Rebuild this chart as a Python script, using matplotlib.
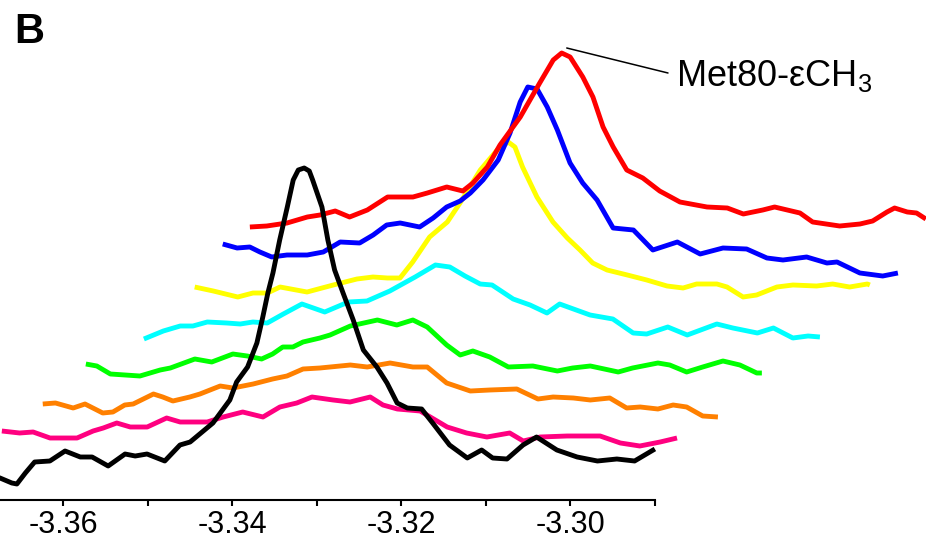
import numpy as np
import matplotlib
matplotlib.use('Agg')
import matplotlib.pyplot as plt

plt.rcParams['font.family'] = 'Liberation Sans'
plt.rcParams['mathtext.fontset'] = 'custom'
plt.rcParams['mathtext.rm'] = 'Liberation Sans'
plt.rcParams['mathtext.it'] = 'Liberation Sans:italic'
plt.rcParams['mathtext.bf'] = 'Liberation Sans:bold'

# chemical shift (ppm) and intensity (a.u.), front to back
black_ppm = [-3.3700, -3.3675, -3.3661, -3.3655, -3.3645, -3.3634, -3.3616, -3.3598, -3.3580, -3.3566,
             -3.3547, -3.3527, -3.3515, -3.3501, -3.3480, -3.3462, -3.3450, -3.3423, -3.3403, -3.3395,
             -3.3382, -3.3371, -3.3364, -3.3358, -3.3352, -3.3344, -3.3335, -3.3328, -3.3322, -3.3315,
             -3.3309, -3.3305, -3.3294, -3.3287, -3.3279, -3.3269, -3.3257, -3.3245, -3.3229, -3.3217,
             -3.3205, -3.3193, -3.3176, -3.3163, -3.3143, -3.3122, -3.3105, -3.3092, -3.3075, -3.3056,
             -3.3040, -3.3016, -3.2992, -3.2968, -3.2945, -3.2924, -3.2900]
black_int = [-2, -8, -13, -14, -3, 8, 9, 19, 13, 13,
             4, 16, 14, 16, 9, 25, 28, 47, 70, 88,
             103, 127, 153, 177, 197, 230, 263, 290, 300, 302,
             299, 290, 263, 230, 200, 177, 150, 120, 103, 87,
             67, 62, 61, 47, 25, 12, 20, 12, 11, 25,
             33, 20, 13, 9, 11, 9, 21]

magenta_ppm = [-3.3700, -3.3679, -3.3663, -3.3643, -3.3611, -3.3592, -3.3580, -3.3564, -3.3548, -3.3528,
               -3.3505, -3.3489, -3.3457, -3.3438, -3.3415, -3.3391, -3.3371, -3.3351, -3.3333, -3.3308,
               -3.3288, -3.3264, -3.3249, -3.3232, -3.3205, -3.3173, -3.3150, -3.3126, -3.3099, -3.3083,
               -3.3063, -3.3031, -3.2992, -3.2968, -3.2945, -3.2921, -3.2901]
magenta_int = [4, 2, 3, -3, -3, 4, 7, 12, 8, 8,
               17, 13, 13, 18, 23, 18, 28, 32, 38, 35,
               33, 38, 30, 26, 24, 8, 2, -2, 2, -6,
               -2, -1, -1, -8, -11, -7, -3]

orange_ppm = [-3.3699, -3.3684, -3.3663, -3.3649, -3.3628, -3.3616, -3.3602, -3.3592, -3.3568, -3.3557,
              -3.3545, -3.3525, -3.3513, -3.3489, -3.3474, -3.3450, -3.3427, -3.3410, -3.3391, -3.3371,
              -3.3335, -3.3315, -3.3288, -3.3261, -3.3244, -3.3221, -3.3193, -3.3170, -3.3138, -3.3113,
              -3.3095, -3.3071, -3.3051, -3.3028, -3.3008, -3.2992, -3.2971, -3.2953, -3.2937, -3.2918,
              -3.2900]
orange_int = [-4, -3, -8, -4, -13, -12, -5, -4, 6, 3,
              -1, 3, 6, 14, 12, 16, 21, 24, 31, 32,
              35, 33, 37, 33, 33, 17, 9, 10, 11, 1,
              3, 2, 0, 2, -8, -7, -9, -5, -7, -16,
              -17]

green_ppm = [-3.3700, -3.3687, -3.3671, -3.3636, -3.3612, -3.3600, -3.3571, -3.3551, -3.3526, -3.3509,
             -3.3492, -3.3479, -3.3467, -3.3455, -3.3443, -3.3423, -3.3411, -3.3387, -3.3355, -3.3332,
             -3.3313, -3.3296, -3.3273, -3.3257, -3.3242, -3.3222, -3.3200, -3.3171, -3.3142, -3.3124,
             -3.3103, -3.3070, -3.3053, -3.3023, -3.3009, -3.2989, -3.2970, -3.2946, -3.2926, -3.2906,
             -3.2900]
green_int = [1, -1, -9, -11, -5, -3, 6, 3, 11, 9,
             6, 11, 18, 18, 23, 27, 30, 39, 45, 40,
             45, 38, 20, 10, 14, 8, -2, -1, -6, -3,
             -1, -7, -3, 2, 0, -7, -2, 4, 0, -8,
             -8]

cyan_ppm = [-3.3700, -3.3677, -3.3657, -3.3642, -3.3625, -3.3602, -3.3586, -3.3571, -3.3554, -3.3535,
            -3.3513, -3.3486, -3.3458, -3.3436, -3.3409, -3.3379, -3.3355, -3.3338, -3.3320, -3.3302,
            -3.3288, -3.3263, -3.3243, -3.3223, -3.3208, -3.3172, -3.3145, -3.3121, -3.3105, -3.3080,
            -3.3057, -3.3022, -3.3003, -3.2974, -3.2955, -3.2932, -3.2914, -3.2900]
cyan_int = [-9, -1, 4, 4, 8, 7, 6, 8, 7, 16,
            26, 18, 28, 29, 39, 53, 65, 63, 54, 46,
            45, 31, 25, 17, 26, 15, 11, -3, -4, 3,
            -5, 6, 2, -3, 2, -8, -6, -7]

yellow_ppm = [-3.3699, -3.3677, -3.3648, -3.3630, -3.3613, -3.3598, -3.3566, -3.3535, -3.3507, -3.3488,
              -3.3471, -3.3456, -3.3441, -3.3421, -3.3400, -3.3385, -3.3361, -3.3341, -3.3328, -3.3320,
              -3.3311, -3.3294, -3.3275, -3.3258, -3.3243, -3.3228, -3.3211, -3.3187, -3.3164, -3.3140,
              -3.3121, -3.3105, -3.3081, -3.3069, -3.3050, -3.3034, -3.3010, -3.2991, -3.2963, -3.2944,
              -3.2924, -3.2903, -3.2900]
yellow_int = [8, 4, -2, 2, 2, 8, 3, 10, 16, 18,
              17, 17, 33, 58, 73, 92, 125, 145, 153, 148,
              128, 98, 73, 57, 45, 32, 25, 20, 15, 9,
              7, 11, 11, 8, -2, 0, 8, 10, 9, 11,
              8, 11, 10]

blue_ppm = [-3.3699, -3.3682, -3.3667, -3.3655, -3.3641, -3.3623, -3.3599, -3.3580, -3.3560, -3.3537,
            -3.3521, -3.3505, -3.3489, -3.3466, -3.3450, -3.3434, -3.3418, -3.3406, -3.3391, -3.3373,
            -3.3359, -3.3347, -3.3338, -3.3327, -3.3315, -3.3303, -3.3288, -3.3273, -3.3256, -3.3237,
            -3.3213, -3.3190, -3.3161, -3.3134, -3.3107, -3.3079, -3.3055, -3.3036, -3.3008, -3.2984,
            -3.2972, -3.2945, -3.2918, -3.2900]
blue_int = [16, 12, 13, 8, 3, 5, 5, 8, 18, 17,
            25, 35, 37, 33, 42, 53, 59, 67, 80, 100,
            127, 158, 173, 171, 153, 130, 97, 77, 60, 32,
            30, 10, 18, 6, 12, 11, 2, 0, 3, -3,
            -2, -13, -16, -13]

red_ppm = [-3.3700, -3.3680, -3.3656, -3.3632, -3.3617, -3.3599, -3.3582, -3.3561, -3.3537, -3.3507,
           -3.3490, -3.3467, -3.3448, -3.3436, -3.3419, -3.3404, -3.3380, -3.3357, -3.3341, -3.3331,
           -3.3321, -3.3306, -3.3294, -3.3282, -3.3270, -3.3254, -3.3235, -3.3215, -3.3191, -3.3159,
           -3.3135, -3.3116, -3.3093, -3.3079, -3.3049, -3.3034, -3.3002, -3.2978, -3.2963, -3.2946,
           -3.2937, -3.2922, -3.2911, -3.2900]
red_int = [-2, -1, 2, 8, 10, 14, 8, 15, 28, 28,
           32, 38, 34, 42, 58, 80, 108, 142, 165, 172,
           168, 148, 128, 98, 78, 55, 47, 34, 23, 18,
           17, 11, 15, 18, 12, 3, -1, 1, 4, 13,
           17, 13, 12, 6]

spectra = [
    (black_ppm, black_int, 'black'),
    (magenta_ppm, magenta_int, '#ff0080'),
    (orange_ppm, orange_int, '#ff8000'),
    (green_ppm, green_int, '#00ff00'),
    (cyan_ppm, cyan_int, '#00ffff'),
    (yellow_ppm, yellow_int, '#ffff00'),
    (blue_ppm, blue_int, '#0000ff'),
    (red_ppm, red_int, '#ff0000'),
]

# stacking offsets for the pseudo-3D view
x_step = [0.0, 0.00272, 0.00746, 0.01266, 0.01953, 0.02544, 0.02876, 0.03207]
y_base = [30, 65, 100, 135, 170, 205, 240, 275]

fig = plt.figure(figsize=(9.26, 5.39), dpi=100)
ax = fig.add_axes([0, 0, 1, 1])

for k, (ppm, inten, col) in enumerate(spectra):
    z = 20 if k == 0 else k + 1
    ax.plot(np.array(ppm) + x_step[k], np.array(inten) + y_base[k],
            color=col, lw=3.5, solid_joinstyle='round', solid_capstyle='butt', zorder=z)

x0 = -3.3675
ax.set_xlim(x0, x0 + 926 / 8450)
ax.set_ylim(-39, 500)

for s in ['top', 'left', 'right']:
    ax.spines[s].set_visible(False)
ax.spines['bottom'].set_position(('data', 0))
ax.spines['bottom'].set_bounds(x0, -3.29)
ax.spines['bottom'].set_linewidth(1.5)
ax.set_yticks([])
ax.set_xticks([-3.36, -3.34, -3.32, -3.30])
ax.set_xticklabels(['-3.36', '-3.34', '-3.32', '-3.30'])
ax.set_xticks([-3.35, -3.33, -3.31, -3.29], minor=True)
ax.tick_params(which='both', direction='out', length=4, width=1.5, labelsize=22, pad=3)

# label for the Met80 methyl peak on the back spectrum
i_pk = int(np.argmax(red_int))
pk_x = red_ppm[i_pk] + x_step[7]
pk_y = red_int[i_pk] + y_base[7]
ax.annotate('', xy=(pk_x + 0.0006, pk_y + 5), xytext=(x0 + 668 / 8450, 427),
            arrowprops=dict(arrowstyle='-', lw=1.1, color='black', shrinkA=0, shrinkB=0))
ax.text(x0 + 676 / 8450, 414, r'Met80-εCH$_{3}$', fontsize=26, ha='left', va='baseline')

fig.text(0.015, 1 - 43 / 539, 'B', fontsize=30, fontweight='bold', ha='left', va='baseline')

fig.savefig('out.png', dpi=100)
